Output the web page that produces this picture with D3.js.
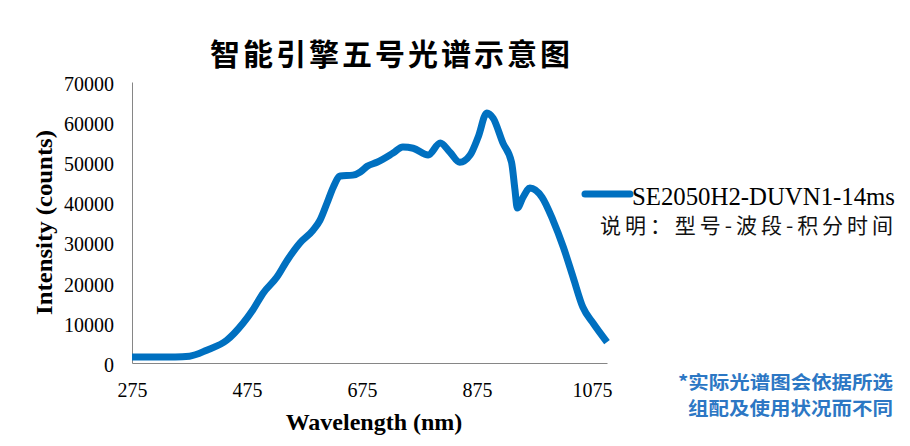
<!DOCTYPE html>
<html>
<head>
<meta charset="utf-8">
<script src="https://cdn.jsdelivr.net/npm/d3@7"></script>
<style>
  body { margin: 0; background: #fff; }
  svg { display: block; }
</style>
</head>
<body>
<div id="chart"></div>
<script>
// Spectrum
const wavelengths = [275, 300, 350, 375, 405, 440, 468, 485, 503, 527, 545, 567, 590, 602, 614, 625, 637, 659, 672, 684, 701, 729, 746, 764, 790, 811, 828, 845, 863, 877, 892, 903, 920, 935, 941, 945, 955, 967, 988, 1007, 1025, 1042, 1059, 1077, 1101];
const intensities = [1500, 1500, 1500, 1700, 3200, 5700, 9900, 13200, 17400, 21400, 25600, 29900, 33100, 35600, 39800, 43800, 46600, 46800, 47600, 49000, 50000, 52300, 53800, 53500, 51800, 54800, 52500, 50000, 51800, 56300, 62300, 61000, 54800, 50000, 43100, 38600, 41300, 43600, 41300, 35600, 28900, 21400, 13900, 9900, 5200];
const xTicks = [275, 475, 675, 875, 1075];
const yTicks = [0, 10000, 20000, 30000, 40000, 50000, 60000, 70000];
const seriesName = 'SE2050H2-DUVN1-14ms';
const legendNote = '说明：型号-波段-积分时间';
const footnote = ['*实际光谱图会依据所选', '组配及使用状况而不同'];

const data = wavelengths.map((w, i) => ({ w, v: intensities[i] }));

const W = 910, H = 446;
const margin = { top: 82, right: 303, bottom: 83, left: 132 };
const width = W - margin.left - margin.right;
const height = H - margin.top - margin.bottom;

const svg = d3.select('#chart')
    .append('svg')
    .attr('width', W)
    .attr('height', H);

const serif = '"Liberation Serif", "Times New Roman", serif';
const cjk = '"Noto Sans CJK SC", sans-serif';

// Title
svg.append('text')
    .attr('x', 390)
    .attr('y', 65)
    .attr('text-anchor', 'middle')
    .attr('textLength', 360)
    .attr('lengthAdjust', 'spacing')
    .style('font-family', cjk)
    .style('font-size', '30px')
    .style('font-weight', 'bold')
    .style('fill', '#000')
    .text('智能引擎五号光谱示意图');

const g = svg.append('g')
    .attr('transform', `translate(${margin.left},${margin.top})`);

// Scales
const x = d3.scaleLinear()
    .domain([275, 1101])
    .range([0, width]);

const y = d3.scaleLinear()
    .domain([0, 70000])
    .range([height, 0]);

// Y axis
const yAxis = g.append('g')
    .call(d3.axisLeft(y).tickValues(yTicks).tickSize(0).tickPadding(18).tickFormat(d3.format('d')));
yAxis.select('.domain').attr('stroke', '#868686');
yAxis.selectAll('text')
    .style('font-family', serif)
    .style('font-size', '20px')
    .style('fill', '#000')
    .attr('dy', '0.42em');

// X axis
const xAxis = g.append('g')
    .attr('transform', `translate(0,${height})`)
    .call(d3.axisBottom(x).tickValues(xTicks).tickSize(0).tickPadding(20).tickFormat(d3.format('d')));
xAxis.select('.domain').attr('stroke', '#868686');
xAxis.selectAll('text')
    .style('font-family', serif)
    .style('font-size', '20px')
    .style('fill', '#000');

// Axis titles
svg.append('text')
    .attr('transform', `translate(52,${margin.top + height / 2}) rotate(-90)`)
    .attr('text-anchor', 'middle')
    .attr('textLength', 185)
    .attr('lengthAdjust', 'spacingAndGlyphs')
    .style('font-family', serif)
    .style('font-size', '24px')
    .style('font-weight', 'bold')
    .text('Intensity (counts)');

svg.append('text')
    .attr('x', 374)
    .attr('y', 430)
    .attr('text-anchor', 'middle')
    .style('font-family', serif)
    .style('font-size', '24px')
    .style('font-weight', 'bold')
    .text('Wavelength (nm)');

// The spectrum line
const line = d3.line()
    .x(d => x(d.w))
    .y(d => y(d.v))
    .curve(d3.curveMonotoneX);

g.append('path')
    .datum(data)
    .attr('fill', 'none')
    .attr('stroke', '#0070C0')
    .attr('stroke-width', 7)
    .attr('stroke-linejoin', 'round')
    .attr('d', line);

// Legend
svg.append('line')
    .attr('x1', 585).attr('x2', 630)
    .attr('y1', 194).attr('y2', 194)
    .attr('stroke', '#0070C0')
    .attr('stroke-width', 7)
    .attr('stroke-linecap', 'round');

svg.append('text')
    .attr('x', 632)
    .attr('y', 205)
    .attr('textLength', 263)
    .attr('lengthAdjust', 'spacingAndGlyphs')
    .style('font-family', serif)
    .style('font-size', '25px')
    .text(seriesName);

svg.append('text')
    .attr('x', 600)
    .attr('y', 233)
    .attr('textLength', 293)
    .attr('lengthAdjust', 'spacing')
    .style('font-family', cjk)
    .style('font-size', '21px')
    .style('fill', '#111')
    .text(legendNote);

// Footnote
svg.selectAll('.note')
    .data(footnote)
    .enter()
    .append('text')
    .attr('class', 'note')
    .attr('x', 893)
    .attr('y', (d, i) => 389 + i * 26)
    .attr('text-anchor', 'end')
    .attr('textLength', (d, i) => i === 0 ? 215 : 205)
    .attr('lengthAdjust', 'spacingAndGlyphs')
    .style('font-family', cjk)
    .style('font-size', '18px')
    .style('font-weight', 'bold')
    .style('fill', '#2C77C4')
    .text(d => d);
</script>
</body>
</html>
